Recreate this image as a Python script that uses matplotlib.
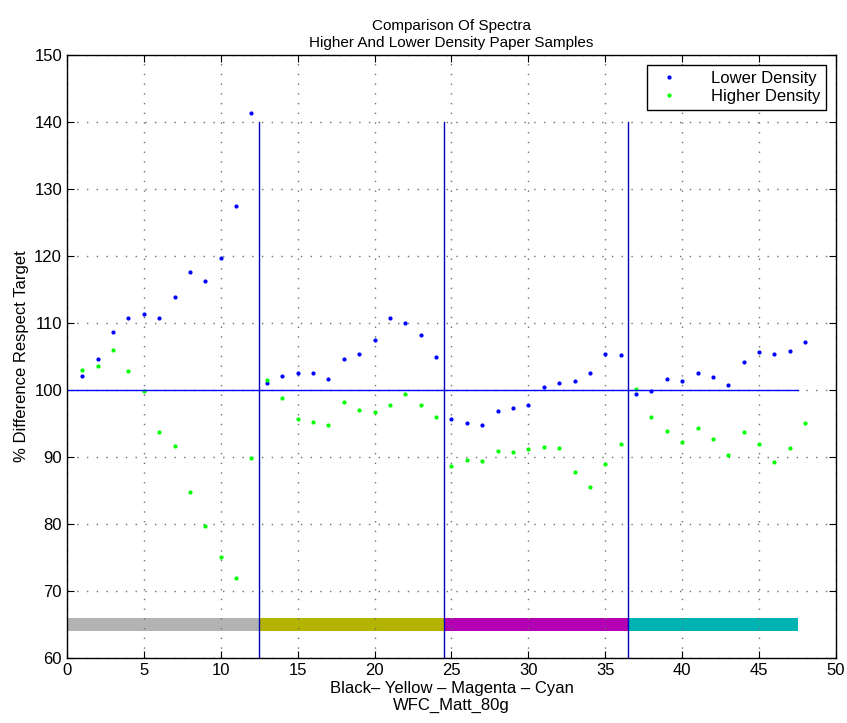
import numpy as np
import matplotlib.pyplot as plt

plt.rcParams['font.family'] = ['Liberation Sans', 'DejaVu Sans']

# sample index along x
samples = np.arange(1, 49)

lower_density = [102.1, 104.6, 108.6, 110.7, 111.4, 110.7, 113.8, 117.6, 116.3, 119.7,
                 127.4, 141.3, 101.0, 102.1, 102.5, 102.6, 101.7, 104.6, 105.4, 107.4,
                 110.7, 110.0, 108.2, 104.9, 95.7, 95.0, 94.8, 96.8, 97.3, 97.7,
                 100.4, 101.0, 101.3, 102.5, 105.4, 105.2, 99.4, 99.8, 101.6, 101.4,
                 102.6, 102.0, 100.7, 104.2, 105.6, 105.4, 105.8, 107.1]

higher_density = [103.0, 103.5, 106.0, 102.9, 99.9, 93.7, 91.7, 84.7, 79.7, 75.0,
                  71.9, 89.8, 101.5, 98.8, 95.6, 95.2, 94.7, 98.2, 97.0, 96.7,
                  97.8, 99.4, 97.7, 95.9, 88.6, 89.5, 89.4, 90.9, 90.8, 91.2,
                  91.5, 91.3, 87.7, 85.5, 89.0, 92.0, 100.1, 95.9, 93.8, 92.3,
                  94.3, 92.7, 90.3, 93.7, 91.9, 89.3, 91.3, 95.1]

# ink groups and their boundaries
group_edges = [0, 12.5, 24.5, 36.5, 47.5]
group_colors = ['#b3b3b3', '#b3b300', '#b300b3', '#00b3b3']
target = 100

fig = plt.figure(figsize=(8.47, 7.23), dpi=100)
ax = fig.add_axes([0.079, 0.090, 0.908, 0.834])

ax.plot(samples, lower_density, '.', color='#0000ff', markersize=4, label='Lower Density')
ax.plot(samples, higher_density, '.', color='#00ff00', markersize=4, label='Higher Density')

# reference line at target and separators between ink groups
ax.plot([group_edges[0], group_edges[-1]], [target, target], color='#0000ff', lw=1)
for edge in group_edges[1:-1]:
    ax.plot([edge, edge], [60, 140], color='#0000c0', lw=1)

# coloured strip marking each ink group
for i in range(len(group_colors)):
    ax.barh(65, group_edges[i + 1] - group_edges[i], height=2, left=group_edges[i],
            color=group_colors[i], edgecolor='none')

ax.set_xlim(0, 50)
ax.set_ylim(60, 150)
ax.set_xticks(np.arange(0, 51, 5))
ax.set_yticks(np.arange(60, 151, 10))
ax.tick_params(direction='in', length=5, labelsize=12, top=True, right=True)
ax.grid(True, linestyle=(0, (1, 6)), color='#707070', lw=1)
for s in ax.spines.values():
    s.set_linewidth(1)

ax.set_title('Comparison Of Spectra\nHigher And Lower Density Paper Samples', fontsize=11)
ax.set_xlabel('Black\u2013 Yellow \u2013 Magenta \u2013 Cyan\nWFC_Matt_80g', fontsize=12, labelpad=2)
ax.set_ylabel('% Difference Respect Target', fontsize=12)

leg = ax.legend(loc='upper right', fontsize=12, fancybox=False, edgecolor='black',
                framealpha=1, borderaxespad=0.6, handletextpad=1.5, labelspacing=0.2,
                borderpad=0.35)
leg.get_frame().set_linewidth(1)

plt.savefig('out.png', dpi=100)
